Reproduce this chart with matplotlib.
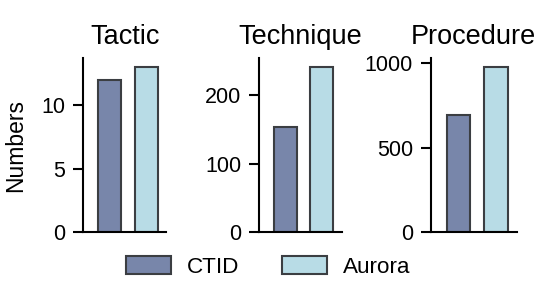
import matplotlib
matplotlib.use("Agg")
import matplotlib.pyplot as plt
from matplotlib.patches import Patch

plt.rcParams["font.family"] = ["Liberation Sans", "DejaVu Sans"]

panels = ["Tactic", "Technique", "Procedure"]
series = ["CTID", "Aurora"]
ctid = [12, 154, 694]
aurora = [13, 241, 977]
yticks = [[0, 5, 10], [0, 100, 200], [0, 500, 1000]]

colors = ["#7886aa", "#b8dce6"]
edge = "#3b3e42"

fig = plt.figure(figsize=(5.4, 3.0), dpi=100)
lefts = [0.154, 0.480, 0.798]
widths = [0.154, 0.153, 0.159]

for i, name in enumerate(panels):
    ax = fig.add_axes([lefts[i], 0.227, widths[i], 0.579])
    vals = [ctid[i], aurora[i]]
    ax.bar([0, 1], vals, width=0.63, color=colors, edgecolor=edge, linewidth=1.5)
    ax.set_xlim(-0.73, 1.55)
    ax.set_ylim(0, max(vals) * 1.055)
    ax.set_yticks(yticks[i])
    ax.set_xticks([])
    ax.set_title(name, fontsize=19.5, pad=10)
    ax.spines[["top", "right"]].set_visible(False)
    for s in ["left", "bottom"]:
        ax.spines[s].set_linewidth(1.5)
    ax.tick_params(axis="y", labelsize=15.5, length=7, width=1.5, pad=6)
    if i == 0:
        ax.set_ylabel("Numbers", fontsize=16.5, labelpad=10)

handles = [Patch(facecolor=c, edgecolor=edge, linewidth=1.5) for c in colors]
fig.legend(handles, series, loc="center", bbox_to_anchor=(0.497, 0.11),
           ncol=2, frameon=False, fontsize=16.2, handlelength=2.0,
           handleheight=0.8, handletextpad=0.7, columnspacing=1.9)

fig.savefig("out.png", dpi=100)
